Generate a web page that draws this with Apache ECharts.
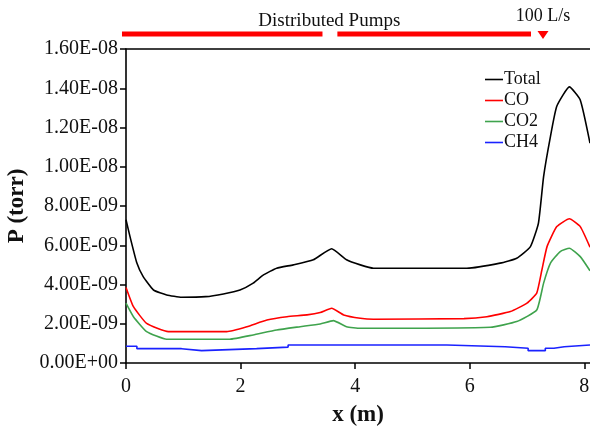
<!DOCTYPE html>
<html>
<head>
<meta charset="utf-8">
<script src="https://cdn.jsdelivr.net/npm/echarts@6/dist/echarts.min.js"></script>
<style>html,body{margin:0;padding:0;background:#fff}#c{width:590px;height:432px}</style>
</head>
<body>
<div id="c"></div>
<script>
// values in units of 1e-9 torr
const totalX = [0, 0.07, 0.19, 0.30, 0.48, 0.71, 0.97, 1.39, 1.70, 1.99, 2.22, 2.40, 2.63, 2.92, 3.27, 3.59, 3.85, 4.09, 4.32, 5.95, 6.53, 6.82, 7.06, 7.20, 7.29, 7.41, 7.52, 7.74, 7.93, 8.1];
const totalY = [7.3, 6.44, 5.09, 4.40, 3.72, 3.47, 3.35, 3.38, 3.52, 3.72, 4.07, 4.49, 4.83, 5.0, 5.26, 5.82, 5.26, 5.0, 4.83, 4.83, 5.09, 5.34, 5.93, 7.13, 9.5, 11.55, 13.08, 14.07, 13.4, 11.2];
const coX = [0, 0.13, 0.36, 0.74, 1.76, 2.11, 2.46, 2.81, 3.16, 3.39, 3.59, 3.80, 4.09, 4.32, 5.9, 6.30, 6.71, 7.0, 7.17, 7.26, 7.35, 7.52, 7.74, 7.93, 8.1];
const coY = [3.85, 2.87, 2.02, 1.6, 1.6, 1.85, 2.19, 2.36, 2.45, 2.57, 2.79, 2.45, 2.28, 2.23, 2.26, 2.36, 2.62, 3.05, 3.56, 4.74, 5.93, 6.95, 7.35, 6.95, 5.9];
const co2X = [0, 0.13, 0.36, 0.71, 1.81, 2.22, 2.63, 3.04, 3.39, 3.62, 3.85, 4.09, 4.32, 6.36, 6.82, 7.17, 7.29, 7.41, 7.58, 7.74, 7.93, 8.1];
const co2Y = [3.05, 2.36, 1.6, 1.21, 1.21, 1.43, 1.68, 1.85, 1.99, 2.16, 1.85, 1.77, 1.77, 1.82, 2.11, 2.7, 4.07, 5.09, 5.68, 5.85, 5.42, 4.7];
const ch4X = [0, 0.19, 0.97, 1.32, 2.28, 2.83, 5.6, 6.62, 7.02, 7.32, 7.47, 7.65, 8.1];
const ch4Y = [0.85, 0.73, 0.63, 0.73, 0.81, 0.92, 0.83, 0.75, 0.63, 0.75, 0.83, 0.92, 0.92];
const seriesNames = ['Total', 'CO', 'CO2', 'CH4'];
const xTicks = [0, 2, 4, 6, 8];
const pumpSegments = [[-0.07, 3.43], [3.69, 7.07]];
const pumpLabel = 'Distributed Pumps';
const pumpLabelX = 3.55;
const lumpedPumpX = 7.28;
const lumpedPumpLabel = '100 L/s';

const FONT = '"Liberation Serif", "DejaVu Serif", serif';
const colors = ['#000000', '#ff0000', '#3fa34d', '#1a22ff'];
const zip = (xs, ys) => xs.map((x, i) => [x, ys[i]]);
const dataSets = [zip(totalX, totalY), zip(coX, coY), zip(co2X, co2Y), zip(ch4X, ch4Y)];

function fmtY(v) {
  if (v === 0) return '0.00E+00';
  if (v >= 10) return (v / 10).toFixed(2) + 'E-08';
  return v.toFixed(2) + 'E-09';
}

const chart = echarts.init(document.getElementById('c'), null, {renderer: 'canvas'});
chart.setOption({
  animation: false,
  backgroundColor: '#fff',
  grid: {left: 126, right: 0, top: 49, bottom: 69, containLabel: false, outerBoundsMode: 'none'},
  legend: {
    orient: 'vertical', left: 480, top: 65, itemGap: 2,
    icon: 'rect', itemWidth: 18, itemHeight: 1.6,
    textStyle: {fontFamily: FONT, fontSize: 18, color: '#111', lineHeight: 19, padding: [0, 0, 0, -4]},
    data: seriesNames
  },
  xAxis: [{
    type: 'value', min: 0, max: 8.1, interval: 2,
    splitLine: {show: false},
    axisLine: {onZero: false, lineStyle: {color: '#000', width: 1.6}},
    axisTick: {customValues: xTicks, length: 6, lineStyle: {color: '#000', width: 1.5}},
    axisLabel: {customValues: xTicks, margin: 14, fontFamily: FONT, fontSize: 20, color: '#111'},
    name: 'x (m)', nameLocation: 'middle', nameGap: 41,
    nameTextStyle: {fontFamily: FONT, fontSize: 23, fontWeight: 'bold', color: '#111'}
  }, {
    type: 'value', position: 'top', min: 0, max: 8.1,
    splitLine: {show: false}, axisTick: {show: false}, axisLabel: {show: false},
    axisLine: {show: true, onZero: false, lineStyle: {color: '#000', width: 1.6}}
  }],
  yAxis: {
    type: 'value', min: 0, max: 16, interval: 2,
    splitLine: {show: false},
    axisLine: {show: true, onZero: false, lineStyle: {color: '#000', width: 1.6}},
    axisTick: {show: true, length: 6, lineStyle: {color: '#000', width: 1.5}},
    axisLabel: {formatter: fmtY, margin: 8, fontFamily: FONT, fontSize: 20, color: '#111'},
    name: 'P (torr)', nameLocation: 'middle', nameGap: 87,
    nameTextStyle: {fontFamily: FONT, fontSize: 23, fontWeight: 'bold', color: '#111'}
  },
  series: seriesNames.map((n, i) => ({
    name: n, type: 'line', data: dataSets[i], showSymbol: false, symbol: 'none',
    smooth: i === 3 ? false : 0.15, step: i === 3 ? 'end' : false,
    color: colors[i], lineStyle: {color: colors[i], width: 1.6}, z: 10 - i
  }))
});

// annotations above the plot, placed via the x scale
const px = x => chart.convertToPixel({xAxisIndex: 0}, x);
const graphics = [];
pumpSegments.forEach(s => {
  const a = px(s[0]), b = px(s[1]);
  graphics.push({type: 'rect', shape: {x: a, y: 31.5, width: b - a, height: 5}, style: {fill: '#ff0000'}});
});
const t = px(lumpedPumpX);
graphics.push({type: 'polygon', shape: {points: [[t - 5.5, 31], [t + 5.5, 31], [t, 39]]}, style: {fill: '#ff0000'}});
graphics.push({type: 'text', x: px(pumpLabelX), y: 21, style: {text: pumpLabel, font: '19px ' + FONT, fill: '#111', align: 'center', verticalAlign: 'middle'}});
graphics.push({type: 'text', x: t, y: 16, style: {text: lumpedPumpLabel, font: '18px ' + FONT, fill: '#111', align: 'center', verticalAlign: 'middle'}});
chart.setOption({graphic: graphics});
</script>
</body>
</html>
